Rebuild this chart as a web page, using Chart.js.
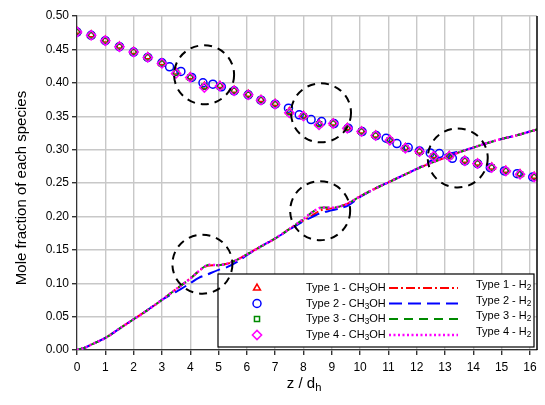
<!DOCTYPE html>
<html><head><meta charset="utf-8">
<script src="https://cdn.jsdelivr.net/npm/chart.js@4.4.1/dist/chart.umd.min.js"></script>
<style>html,body{margin:0;padding:0;background:#fff}#wrap{width:545px;height:405px;position:relative}</style>
</head><body><div id="wrap"><canvas id="c"></canvas></div>
<script>
// ---------- axis ticks ----------
const xTickValues = [0,1,2,3,4,5,6,7,8,9,10,11,12,13,14,15,16];
const yTickValues = [0,0.05,0.10,0.15,0.20,0.25,0.30,0.35,0.40,0.45,0.50];

// ---------- CH3OH (markers) ----------
const zCH3OH_t4 = [0,0.5,1,1.5,2,2.5,3,3.5,4,4.5,5.05,5.55,6.05,6.5,7,7.5,8,8.55,9.05,9.55,10.05,10.55,11.05,11.6,12.1,12.6,13.15,13.7,14.15,14.65,15.15,15.65,16.15];
const yCH3OH_t4 = [0.476,0.471,0.463,0.454,0.446,0.438,0.429,0.414,0.408,0.393,0.395,0.388,0.382,0.374,0.368,0.355,0.350,0.337,0.339,0.332,0.327,0.321,0.314,0.302,0.297,0.290,0.290,0.283,0.279,0.273,0.268,0.263,0.259];
const yCH3OH_t1 = [0.477,0.472,0.464,0.455,0.447,0.439,0.430,0.416,0.409,0.395,0.396,0.389,0.383,0.375,0.369,0.357,0.351,0.339,0.340,0.333,0.328,0.322,0.315,0.303,0.298,0.291,0.291,0.284,0.280,0.274,0.269,0.264,0.260];
const yCH3OH_t3 = [0.476,0.471,0.463,0.454,0.446,0.438,0.429,0.415,0.408,0.394,0.395,0.388,0.382,0.374,0.368,0.356,0.350,0.338,0.339,0.332,0.327,0.321,0.314,0.302,0.297,0.290,0.290,0.283,0.279,0.273,0.268,0.263,0.259];
const zCH3OH_t2 = [0,0.5,1,1.5,2,2.5,3,3.27,3.67,4.05,4.45,4.8,5.1,5.55,6.05,6.5,7,7.47,7.85,8.27,8.64,9.08,9.58,10.07,10.57,10.92,11.3,11.7,12.1,12.48,12.8,13.26,13.7,14.15,14.6,15.1,15.55,16.1];
const yCH3OH_t2 = [0.476,0.471,0.463,0.454,0.446,0.438,0.430,0.424,0.417,0.408,0.400,0.398,0.394,0.388,0.382,0.374,0.368,0.362,0.352,0.345,0.342,0.339,0.332,0.327,0.321,0.317,0.309,0.303,0.298,0.295,0.294,0.287,0.283,0.279,0.273,0.268,0.264,0.259];

// ---------- H2 (lines) ----------
const zH2 = [0,0.25,0.5,1,1.5,2,2.5,3,3.5,4,4.3,4.6,5.0,5.3,5.7,6,6.5,7,7.5,8,8.3,8.6,9.0,9.3,9.6,10,10.5,11,11.5,12,12.5,13,13.5,14,14.5,15,15.5,16,16.25];
const yH2_t1 = [0,0.003,0.008,0.018,0.032,0.046,0.060,0.075,0.091,0.107,0.118,0.126,0.127,0.129,0.136,0.143,0.155,0.167,0.181,0.194,0.201,0.209,0.212,0.215,0.220,0.230,0.241,0.251,0.261,0.271,0.280,0.288,0.296,0.303,0.310,0.316,0.321,0.327,0.330];
const yH2_t2 = [0,0.003,0.008,0.018,0.032,0.046,0.060,0.075,0.087,0.100,0.108,0.113,0.120,0.124,0.133,0.142,0.155,0.167,0.180,0.193,0.199,0.205,0.209,0.212,0.217,0.229,0.241,0.251,0.261,0.271,0.283,0.292,0.297,0.303,0.310,0.316,0.321,0.327,0.330];
const yH2_t3 = [0,0.003,0.008,0.018,0.032,0.046,0.060,0.075,0.091,0.107,0.118,0.127,0.127,0.129,0.136,0.143,0.155,0.167,0.181,0.196,0.206,0.213,0.213,0.215,0.220,0.230,0.241,0.251,0.261,0.271,0.280,0.288,0.296,0.303,0.310,0.316,0.321,0.327,0.330];
const yH2_t4 = [0,0.003,0.008,0.018,0.032,0.046,0.060,0.075,0.091,0.107,0.118,0.127,0.127,0.129,0.136,0.143,0.155,0.167,0.181,0.196,0.206,0.213,0.213,0.215,0.220,0.230,0.241,0.251,0.261,0.271,0.280,0.288,0.296,0.303,0.310,0.316,0.321,0.327,0.330];

// ---------- highlighted regions (data coords) ----------
const circleZ = [4.49, 8.62, 13.45, 4.43, 8.59];
const circleY = [0.412, 0.355, 0.2875, 0.1285, 0.2085];

const typeNames = ['Type 1','Type 2','Type 3','Type 4'];
const colors = ['#ff0000','#0000ff','#008a00','#ff00ff'];
const markerStyles = ['triangle','circle','rect','rectRot'];
const markerRadius = [4,4,3.6,4.6];
const lineDashes = [[9,3,2,3],[13,6],[9,6],[2,2.5]];
const lineWidths = [2,2,2,2.5];

const FONT = "'Liberation Sans', Arial, Helvetica, sans-serif";
const zip = (zs, ys) => zs.map((z, i) => ({x: z, y: ys[i]}));

const ch3ohSets = [zip(zCH3OH_t4, yCH3OH_t1), zip(zCH3OH_t2, yCH3OH_t2), zip(zCH3OH_t4, yCH3OH_t3), zip(zCH3OH_t4, yCH3OH_t4)];
const h2Sets = [zip(zH2, yH2_t1), zip(zH2, yH2_t2), zip(zH2, yH2_t3), zip(zH2, yH2_t4)];

const datasets = [];
[0,1,2,3].forEach(i => {
  datasets.push({
    label: typeNames[i] + ' - H2', data: h2Sets[i], showLine: true, pointRadius: 0,
    borderColor: colors[i], borderWidth: lineWidths[i], borderDash: lineDashes[i],
    tension: 0.3, fill: false, order: 20 - i
  });
});
[0,1,2,3].forEach(i => {
  datasets.push({
    label: typeNames[i] + ' - CH3OH', data: ch3ohSets[i], showLine: false,
    pointStyle: markerStyles[i], pointRadius: markerRadius[i], pointBorderWidth: 1.5,
    pointBackgroundColor: 'rgba(255,255,255,0)', pointBorderColor: colors[i],
    order: 10 - i
  });
});

function drawSubText(ctx, parts, x, y, size) {
  let cx = x;
  parts.forEach(([t, sub]) => {
    ctx.font = (sub ? size * 0.75 : size) + 'px ' + FONT;
    ctx.fillText(t, cx, sub ? y + size * 0.28 : y);
    cx += ctx.measureText(t).width;
  });
  return cx;
}

const extras = {
  id: 'extras',
  afterDatasetsDraw(chart) {
    const ctx = chart.ctx, ca = chart.chartArea, xs = chart.scales.x, ys = chart.scales.y;
    ctx.save();
    // right border
    ctx.strokeStyle = '#000'; ctx.lineWidth = 1.5;
    ctx.beginPath(); ctx.moveTo(ca.right, ca.top); ctx.lineTo(ca.right, ca.bottom); ctx.stroke();

    // legend box
    const lx = 218, ly = 274, lw = ca.right - 3 - lx, lh = 73;
    ctx.fillStyle = '#fff'; ctx.fillRect(lx, ly, lw, lh);
    ctx.strokeStyle = '#000'; ctx.lineWidth = 1.2; ctx.strokeRect(lx, ly, lw, lh);
    ctx.textBaseline = 'middle'; ctx.textAlign = 'left';
    const rows = [288, 303.5, 319, 335];
    for (let i = 0; i < 4; i++) {
      const ry = rows[i];
      ctx.fillStyle = 'rgba(255,255,255,0)'; ctx.strokeStyle = colors[i]; ctx.lineWidth = 1.5;
      Chart.helpers.drawPoint(ctx, {pointStyle: markerStyles[i], radius: markerRadius[i], rotation: 0, borderWidth: 1.5}, 257, ry);
      ctx.fillStyle = '#000';
      drawSubText(ctx, [[typeNames[i] + ' - CH', false], ['3', true], ['OH', false]], 306, ry, 11);
      ctx.strokeStyle = colors[i]; ctx.lineWidth = lineWidths[i]; ctx.setLineDash(lineDashes[i]);
      ctx.beginPath(); ctx.moveTo(389, ry); ctx.lineTo(458, ry); ctx.stroke(); ctx.setLineDash([]);
      ctx.fillStyle = '#000';
      drawSubText(ctx, [[typeNames[i] + ' - H', false], ['2', true]], 476, ry - 3, 11);
    }

    // dashed circles
    ctx.strokeStyle = '#000'; ctx.lineWidth = 2; ctx.setLineDash([8, 6]);
    for (let k = 0; k < circleZ.length; k++) {
      const px = xs.getPixelForValue(circleZ[k]), py = ys.getPixelForValue(circleY[k]);
      ctx.beginPath(); ctx.ellipse(px, py, 30, 29.5, 0, 0, Math.PI * 2); ctx.stroke();
    }
    ctx.setLineDash([]);

    // x-axis title
    ctx.fillStyle = '#000'; ctx.textBaseline = 'middle';
    ctx.font = '15px ' + FONT;
    const w = ctx.measureText('z / d').width + 6;
    const sx = (ca.left + ca.right) / 2 - w / 2 - 3;
    drawSubText(ctx, [['z / d', false], ['h', true]], sx, 384, 15);

    // y-axis title
    ctx.save();
    ctx.translate(22, 188); ctx.rotate(-Math.PI / 2);
    ctx.textAlign = 'center'; ctx.font = '15px ' + FONT;
    ctx.fillText('Mole fraction of each species', 0, 0);
    ctx.restore();
    ctx.restore();
  }
};

new Chart(document.getElementById('c'), {
  type: 'scatter',
  data: { datasets },
  options: {
    responsive: true, maintainAspectRatio: false, animation: false,
    layout: { padding: { left: 0, top: 16, right: 8, bottom: 0 } },
    plugins: { legend: { display: false }, tooltip: { enabled: false } },
    scales: {
      x: {
        type: 'linear', min: 0, max: 16.25,
        afterFit(s) { s.height = 55; },
        afterBuildTicks(s) { s.ticks = xTickValues.map(v => ({value: v})); },
        ticks: { color: '#000', font: { family: FONT, size: 12 }, padding: 5, includeBounds: false, callback: v => String(v) },
        grid: { color: '#c8c8c8', lineWidth: 1.4, tickLength: 5, tickColor: '#333' },
        border: { color: '#333', width: 1.2 }
      },
      y: {
        type: 'linear', min: 0, max: 0.5,
        afterFit(s) { s.width = 77; },
        afterBuildTicks(s) { s.ticks = yTickValues.map(v => ({value: v})); },
        ticks: { color: '#000', font: { family: FONT, size: 12 }, padding: 3, callback: v => Number(v).toFixed(2) },
        grid: { color: '#c8c8c8', lineWidth: 1.4, tickLength: 5, tickColor: '#333' },
        border: { color: '#333', width: 1.2 }
      }
    }
  },
  plugins: [extras]
});
</script></body></html>
